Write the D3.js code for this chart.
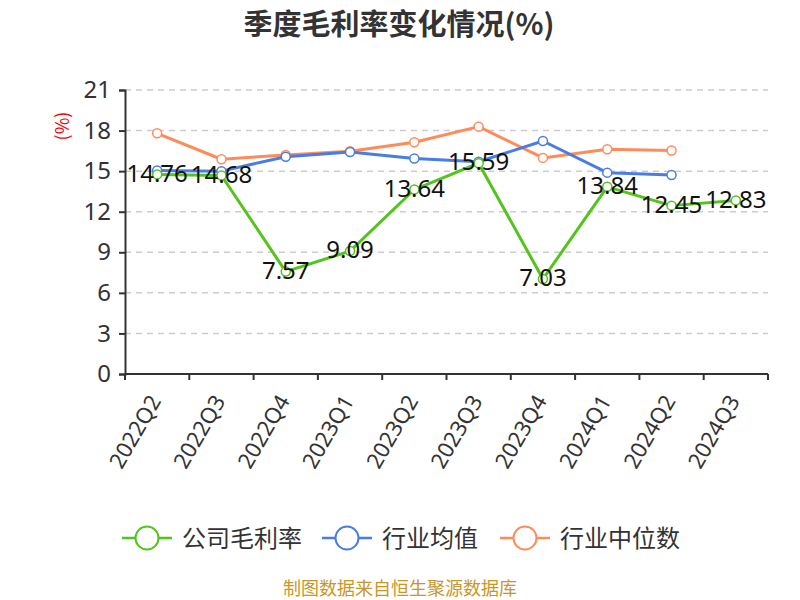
<!DOCTYPE html>
<html><head><meta charset="utf-8">
<script src="https://cdn.jsdelivr.net/npm/d3@7/dist/d3.min.js"></script>
<style>body{margin:0;background:#fff;} svg{display:block;font-family:"Noto Sans CJK SC","Noto Sans",sans-serif;}</style>
</head><body>
<svg id="c" width="800" height="600"></svg>
<script>
const categories = ["2022Q2","2022Q3","2022Q4","2023Q1","2023Q2","2023Q3","2023Q4","2024Q1","2024Q2","2024Q3"];
const companyMargin = [14.76,14.68,7.57,9.09,13.64,15.59,7.03,13.84,12.45,12.83];
const industryMean = [15.05,15.0,16.07,16.42,15.93,15.7,17.23,14.89,14.72,null];
const industryMedian = [17.8,15.88,16.2,16.47,17.14,18.29,15.98,16.62,16.52,null];
const yTicks = [0,3,6,9,12,15,18,21];
const seriesNames = ["公司毛利率","行业均值","行业中位数"];
const colors = ["#52c41a","#4a7de3","#ff8b5b"];

const svg = d3.select("#c");
const L = 125, R = 768, T = 90, B = 374;
const x = d3.scaleBand().domain(categories).range([L, R]);
const y = d3.scaleLinear().domain([0, 21]).range([B, T]);

svg.append("text").attr("x", 399).attr("y", 35).attr("text-anchor", "middle")
  .attr("font-size", 29).attr("font-weight", "bold").attr("fill", "#333").text("季度毛利率变化情况(%)");

// grid
svg.append("g").selectAll("line").data(yTicks.filter(d => d > 0)).join("line")
  .attr("x1", L).attr("x2", R).attr("y1", d => y(d)).attr("y2", d => y(d))
  .attr("stroke", "#ccc").attr("stroke-width", 1.5).attr("stroke-dasharray", "6,5");

// y axis
const ya = svg.append("g").attr("transform", `translate(${L},0)`)
  .call(d3.axisLeft(y).tickValues(yTicks).tickSize(6).tickPadding(8));
ya.select(".domain").attr("stroke", "#333").attr("stroke-width", 2);
ya.selectAll(".tick line").attr("stroke", "#333").attr("stroke-width", 2);
ya.selectAll(".tick text").attr("font-size", 24).attr("fill", "#333").attr("font-family", "'Noto Sans',sans-serif");

svg.append("text").attr("transform", "translate(63,126) rotate(-90)").attr("text-anchor", "middle")
  .attr("dy", "0.35em").attr("font-size", 18).attr("fill", "red").text("(%)");

// x axis
const xa = svg.append("g").attr("transform", `translate(0,${B})`);
xa.append("line").attr("x1", L).attr("x2", R).attr("stroke", "#333").attr("stroke-width", 2);
const bounds = categories.map(c => x(c)).concat([R]);
xa.selectAll("line.t").data(bounds).join("line").attr("class", "t")
  .attr("x1", d => d).attr("x2", d => d).attr("y1", 0).attr("y2", 6)
  .attr("stroke", "#333").attr("stroke-width", 2);
xa.selectAll("text").data(categories).join("text")
  .attr("transform", d => `translate(${x(d) + x.bandwidth()/2 - 2},23) rotate(-60)`)
  .attr("text-anchor", "end").attr("dy", "0.35em")
  .attr("font-size", 22).attr("fill", "#333").attr("font-family", "'Noto Sans',sans-serif").text(d => d);

const cx = c => x(c) + x.bandwidth()/2;
const allSeries = [companyMargin, industryMean, industryMedian];
[2,1,0].forEach(i => {
  const data = categories.map((c, j) => ({c, v: allSeries[i][j]})).filter(d => d.v != null);
  const line = d3.line().x(d => cx(d.c)).y(d => y(d.v));
  svg.append("path").datum(data).attr("d", line).attr("fill", "none")
    .attr("stroke", colors[i]).attr("stroke-width", 3).attr("stroke-linejoin", "round");
  svg.append("g").selectAll("circle").data(data).join("circle")
    .attr("cx", d => cx(d.c)).attr("cy", d => y(d.v)).attr("r", 4.5)
    .attr("fill", "#fff").attr("stroke", colors[i]).attr("stroke-width", 1.5);
});

svg.append("g").selectAll("text").data(categories.map((c, j) => ({c, v: companyMargin[j]}))).join("text")
  .attr("x", d => cx(d.c)).attr("y", d => y(d.v)).attr("dy", "0.3em").attr("text-anchor", "middle")
  .attr("font-size", 24).attr("fill", "#111").attr("font-family", "'Noto Sans',sans-serif")
  .text(d => d.v.toFixed(2));

// legend
const legX = [122, 322, 500];
seriesNames.forEach((n, i) => {
  const g = svg.append("g").attr("transform", `translate(${legX[i]},538)`);
  g.append("line").attr("x1", 0).attr("x2", 50).attr("stroke", colors[i]).attr("stroke-width", 2.5);
  g.append("circle").attr("cx", 25).attr("r", 11.5).attr("fill", "#fff").attr("stroke", colors[i]).attr("stroke-width", 2);
  g.append("text").attr("x", 60).attr("dy", "0.36em").attr("font-size", 24).attr("fill", "#333").text(n);
});

svg.append("text").attr("x", 400).attr("y", 595).attr("text-anchor", "middle")
  .attr("font-size", 18).attr("fill", "#c8962a").text("制图数据来自恒生聚源数据库");
</script>
</body></html>
